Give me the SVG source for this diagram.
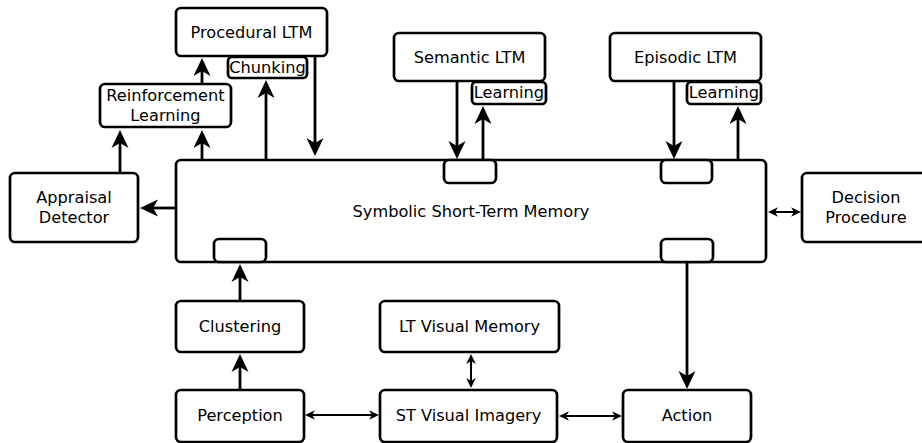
<svg xmlns="http://www.w3.org/2000/svg" width="922" height="443" viewBox="0 0 922 443">
<style>
.b{fill:#fff;stroke:#000;stroke-width:2.7}
.t{font-family:"DejaVu Sans",sans-serif;font-size:16.2px;text-anchor:middle;fill:#000}
.c{stroke:#000;stroke-width:2.8;fill:none}
.d{stroke:#000;stroke-width:2;fill:none}
</style>
<defs>
<marker id="a" markerUnits="userSpaceOnUse" orient="auto" refX="0" refY="0" markerWidth="20" markerHeight="20" style="overflow:visible">
<path d="M13,0 L-5,-8.5 L0,0 L-5,8.5 Z" fill="#000"/>
</marker>
<marker id="s" markerUnits="userSpaceOnUse" orient="auto-start-reverse" refX="0" refY="0" markerWidth="12" markerHeight="12" style="overflow:visible">
<path d="M7,0 L-3,-4.8 L0,0 L-3,4.8 Z" fill="#000"/>
</marker>
</defs>
<rect width="922" height="443" fill="#fff"/>
<g id="connectors">
<line class="c" x1="120" y1="173" x2="120" y2="143" marker-end="url(#a)"/>
<line class="c" x1="202" y1="160" x2="202" y2="143" marker-end="url(#a)"/>
<line class="c" x1="202" y1="84" x2="202" y2="71" marker-end="url(#a)"/>
<line class="c" x1="266" y1="159" x2="266" y2="93" marker-end="url(#a)"/>
<line class="c" x1="315" y1="56" x2="315" y2="143" marker-end="url(#a)"/>
<line class="c" x1="176" y1="208" x2="153" y2="208" marker-end="url(#a)"/>
<line class="c" x1="457" y1="81" x2="457" y2="146" marker-end="url(#a)"/>
<line class="c" x1="483" y1="160" x2="483" y2="119" marker-end="url(#a)"/>
<line class="c" x1="674" y1="81" x2="674" y2="146" marker-end="url(#a)"/>
<line class="c" x1="738" y1="160" x2="738" y2="119" marker-end="url(#a)"/>
<line class="c" x1="687" y1="262" x2="687" y2="376" marker-end="url(#a)"/>
<line class="c" x1="240" y1="301" x2="240" y2="277" marker-end="url(#a)"/>
<line class="c" x1="240" y1="390" x2="240" y2="367" marker-end="url(#a)"/>
<line class="d" x1="775" y1="212" x2="794" y2="212" marker-start="url(#s)" marker-end="url(#s)"/>
<line class="d" x1="312" y1="415" x2="372" y2="415" marker-start="url(#s)" marker-end="url(#s)"/>
<line class="d" x1="471" y1="361" x2="471" y2="381" marker-start="url(#s)" marker-end="url(#s)"/>
<line class="d" x1="566" y1="416" x2="615" y2="416" marker-start="url(#s)" marker-end="url(#s)"/>
</g>
<g id="procedural-ltm"><rect class="b" x="176" y="8" width="151" height="48" rx="5"/><text class="t" x="251.5" y="37.5">Procedural LTM</text></g>
<g id="chunking"><rect class="b" x="228" y="57" width="79" height="21" rx="4"/><text class="t" x="267.5" y="73">Chunking</text></g>
<g id="reinforcement-learning"><rect class="b" x="100" y="84" width="131" height="43" rx="5"/><text class="t" x="165.5" y="101">Reinforcement</text><text class="t" x="165.5" y="120.5">Learning</text></g>
<g id="appraisal-detector"><rect class="b" x="10" y="173" width="128" height="69" rx="5"/><text class="t" x="74" y="203">Appraisal</text><text class="t" x="74" y="223">Detector</text></g>
<g id="symbolic-stm"><rect class="b" x="176" y="160" width="590" height="102" rx="5"/><text class="t" x="471" y="217">Symbolic Short-Term Memory</text>
<rect class="b" x="444" y="160" width="52" height="23" rx="5"/>
<rect class="b" x="661" y="160" width="51" height="23" rx="5"/>
<rect class="b" x="214" y="239" width="52" height="23" rx="5"/>
<rect class="b" x="661" y="239" width="52" height="23" rx="5"/></g>
<g id="semantic-ltm"><rect class="b" x="394" y="33" width="151" height="48" rx="5"/><text class="t" x="469.5" y="62.5">Semantic LTM</text></g>
<g id="semantic-learning"><rect class="b" x="472" y="82" width="74" height="22" rx="4"/><text class="t" x="509" y="98">Learning</text></g>
<g id="episodic-ltm"><rect class="b" x="610" y="33" width="151" height="48" rx="5"/><text class="t" x="685.5" y="62.5">Episodic LTM</text></g>
<g id="episodic-learning"><rect class="b" x="687" y="82" width="74" height="22" rx="4"/><text class="t" x="724" y="98">Learning</text></g>
<g id="decision-procedure"><rect class="b" x="802" y="173" width="130" height="69" rx="5"/><text class="t" x="866" y="203">Decision</text><text class="t" x="866" y="223">Procedure</text></g>
<g id="clustering"><rect class="b" x="176" y="301" width="128" height="51" rx="5"/><text class="t" x="240" y="332">Clustering</text></g>
<g id="lt-visual-memory"><rect class="b" x="380" y="301" width="179" height="51" rx="5"/><text class="t" x="469.5" y="332">LT Visual Memory</text></g>
<g id="perception"><rect class="b" x="176" y="390" width="128" height="52" rx="5"/><text class="t" x="240" y="421">Perception</text></g>
<g id="st-visual-imagery"><rect class="b" x="380" y="390" width="177" height="52" rx="5"/><text class="t" x="468.5" y="421">ST Visual Imagery</text></g>
<g id="action"><rect class="b" x="623" y="390" width="128" height="52" rx="5"/><text class="t" x="687" y="421">Action</text></g>
</svg>
